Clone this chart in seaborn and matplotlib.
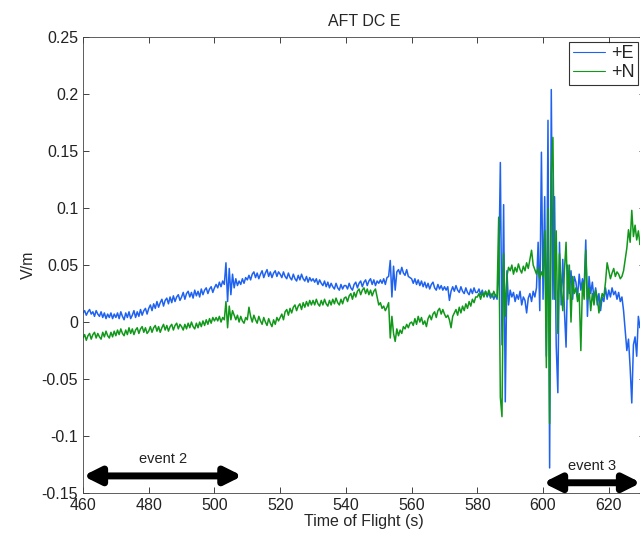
import numpy as np
import pandas as pd
import matplotlib
matplotlib.use("Agg")
import matplotlib.pyplot as plt
import seaborn as sns

# time axis, one sample every 0.5 s
t = np.linspace(460, 630, 341)

# +E component, mV/m (rows of 10 s)
e_mv = [
    8, 10, 6, 9, 11, 7, 9, 5, 10, 7, 5, 9, 4, 8, 3, 7, 4, 8, 3, 7,
    4, 8, 3, 9, 5, 2, 8, 4, 9, 3, 6, 10, 4, 9, 5, 11, 6, 10, 12, 7,
    12, 15, 10, 16, 12, 18, 13, 17, 20, 14, 19, 21, 16, 22, 17, 23, 18, 22, 24, 19,
    22, 26, 20, 25, 27, 22, 26, 21, 28, 23, 27, 22, 29, 24, 28, 30, 25, 29, 31, 26,
    30, 33, 30, 35, 31, 36, 33, 52, 18, 47, 24, 42, 30, 38, 32, 36, 33, 38, 34, 39,
    37, 41, 37, 42, 44, 39, 43, 38, 42, 45, 39, 43, 46, 40, 44, 39, 43, 45, 40, 44,
    42, 39, 44, 40, 38, 43, 39, 37, 42, 38, 36, 41, 37, 42, 38, 36, 40, 35, 39, 36,
    38, 35, 38, 33, 37, 34, 32, 36, 31, 35, 30, 34, 31, 29, 34, 30, 28, 33, 29, 32,
    32, 29, 34, 30, 28, 33, 35, 30, 34, 36, 31, 35, 37, 32, 36, 38, 33, 37, 32, 36,
    34, 37, 34, 38, 33, 39, 40, 54, 22, 49, 28, 44, 46, 42, 48, 43, 41, 46, 40, 39,
    38, 34, 38, 33, 37, 32, 36, 31, 35, 30, 34, 29, 33, 35, 30, 28, 33, 29, 32, 28,
    31, 28, 31, 19, 27, 31, 27, 32, 28, 26, 31, 27, 25, 30, 26, 24, 29, 25, 30, 26,
    26, 29, 24, 28, 23, 27, 22, 26, 21, 25, 20, 24, 20, 40, 140, -20, 103, -70, 45, 15,
    28, 22, 26, 18, 24, 20, 27, 15, 22, 19, 8, 21, 25, 18, 27, 22, 30, 70, 10, 149,
    20, 110, -30, 177, -128, 204, 20, 110, -20, -62, 70, 15, 55, 10, -22, 50, 25, 45, 20, 40,
    35, 22, 42, 28, 38, 30, 72, 5, 40, 25, 35, 20, 30, 15, 25, 10, 22, 18, 30, 20,
    28, 22, 30, 24, 27, 20, 26, 18, 22, 10, -7, -25, -15, -40, -71, -20, -13, -30, 5, -5,
    0,
]

# +N component, mV/m
n_mv = [
    -14, -11, -16, -12, -10, -15, -11, -9, -14, -10, -13, -15, -9, -13, -8, -12, -14, -9, -13, -8,
    -12, -7, -11, -6, -10, -12, -7, -11, -5, -10, -6, -11, -7, -5, -10, -6, -4, -9, -5, -10,
    -8, -4, -9, -5, -3, -8, -4, -9, -5, -2, -7, -3, -8, -4, -2, -7, -3, -1, -6, -2,
    -4, -7, -2, -6, -1, -5, 0, -4, -6, -1, -5, 0, -4, 1, -3, 2, -2, 3, -1, 4,
    1, 4, 1, 5, 0, 4, 2, 18, -5, 14, 2, 10, 6, 2, 6, 0, 5, 1, -1, 4,
    2, 13, 5, 0, 6, 2, -1, 5, 1, -2, 4, 0, -3, 3, -1, -4, 2, -2, 4, 1,
    4, 7, 2, 9, 11, 6, 12, 8, 13, 15, 10, 14, 16, 11, 17, 13, 18, 14, 19, 15,
    19, 15, 20, 16, 14, 19, 15, 20, 16, 14, 19, 15, 20, 16, 21, 17, 15, 20, 16, 21,
    22, 18, 23, 25, 20, 26, 22, 27, 29, 24, 28, 30, 25, 29, 24, 28, 23, 27, 29, 22,
    15, 17, 12, 14, 10, 13, 17, -14, 5, -10, -17, -6, -12, -7, -10, -4, -6, -2, -5, -1,
    0, -3, 3, -2, 5, 0, 4, -2, 1, -4, 3, 6, 2, 7, 9, 4, 10, 12, 7, 11,
    7, 4, 6, 2, -5, 5, 8, 11, 6, 13, 8, 14, 10, 16, 12, 18, 14, 20, 17, 22,
    22, 25, 20, 26, 22, 27, 23, 28, 24, 22, 27, 23, 22, 92, -66, -83, 60, 5, 40, 48,
    45, 50, 42, 48, 44, 51, 46, 43, 49, 45, 52, 47, 55, 63, 50, 46, 42, 48, 38, 44,
    40, 80, -40, 100, -89, 130, 162, 20, 80, -10, 60, 30, 10, 45, 70, 20, 50, 0, 40, 25,
    30, 18, 25, -25, 35, 20, 63, 20, 30, 10, 25, 15, 28, 22, 8, 18, 25, 22, 35, 52,
    45, 38, 43, 47, 40, 44, 42, 38, 40, 45, 55, 65, 81, 70, 98, 75, 85, 72, 80, 68,
    72,
]

y_ticks = [-0.15, -0.1, -0.05, 0, 0.05, 0.1, 0.15, 0.2, 0.25]
x_ticks = [460, 480, 500, 520, 540, 560, 580, 600, 620]

# event spans (s) and arrow heights (V/m)
event2 = (460, 508.5, -0.135)
event3 = (600, 629.8, -0.141)

df = pd.DataFrame({
    "t": t,
    "+E": np.array(e_mv) / 1000.0,
    "+N": np.array(n_mv) / 1000.0,
})

sns.set_style("ticks")
plt.rcParams["font.family"] = ["Liberation Sans", "DejaVu Sans"]
plt.rcParams["axes.unicode_minus"] = False

fig = plt.figure(figsize=(6.4, 5.37), dpi=100)
ax = fig.add_axes([0.1297, 0.0819, 0.878, 0.849])

sns.lineplot(data=df, x="t", y="+E", ax=ax, color="#1f62f0", lw=1.1,
             estimator=None, label="+E")
sns.lineplot(data=df, x="t", y="+N", ax=ax, color="#11981a", lw=1.1,
             estimator=None, label="+N")

ax.set_xlim(460, 631)
ax.set_ylim(-0.15, 0.25)
ax.set_xticks(x_ticks)
ax.set_yticks(y_ticks)
ax.set_yticklabels(["%g" % v for v in y_ticks])
ax.tick_params(direction="in", top=True, right=True, labelsize=11.5,
               length=4, width=0.6, colors="#222222")
for s in ax.spines.values():
    s.set_linewidth(0.6)
    s.set_color("#444444")

ax.set_title("AFT DC E", fontsize=11.5, pad=8)
ax.set_xlabel("Time of Flight (s)", fontsize=11.5, labelpad=1)
ax.set_ylabel("V/m", fontsize=11.5, labelpad=4)

leg = ax.legend(loc="upper right", bbox_to_anchor=(0.997, 0.922),
                bbox_transform=fig.transFigure, fontsize=13,
                frameon=True, fancybox=False, edgecolor="black",
                handlelength=1.8, handletextpad=0.3, borderpad=0.2,
                labelspacing=0.1, borderaxespad=0)
leg.get_frame().set_linewidth(0.8)
for h in leg.get_lines():
    h.set_linewidth(0.8)

for (a, b, y), txt in [(event2, "event 2"), (event3, "event 3")]:
    ax.annotate("", xy=(a, y), xytext=(b, y),
                arrowprops=dict(arrowstyle="<|-|>", lw=5, color="black",
                                mutation_scale=25, shrinkA=0, shrinkB=0),
                annotation_clip=False)
    ax.text((a + b) / 2, y + 0.009, txt, ha="center", va="bottom",
            fontsize=10.5, color="#222222")

fig.savefig("out.png", dpi=100)
